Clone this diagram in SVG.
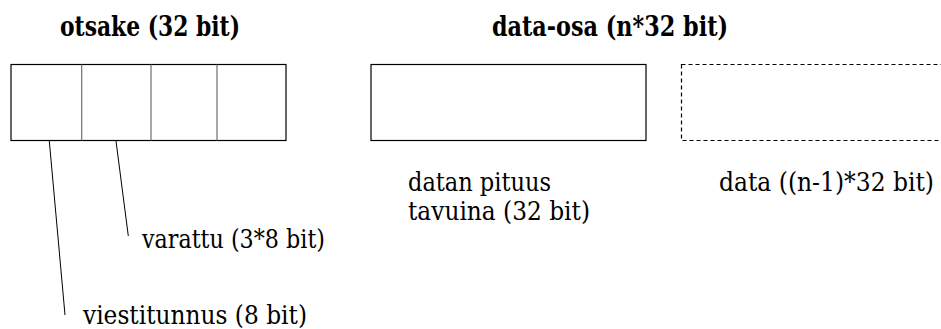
<svg xmlns="http://www.w3.org/2000/svg" width="941" height="329" viewBox="0 0 941 329">
  <style>
    .box { fill: #ffffff; stroke: #000000; stroke-width: 1.2; }
    .dash { fill: none; stroke: #000000; stroke-width: 1.2; stroke-dasharray: 4 3; }
    .div { stroke: #6e6e6e; stroke-width: 1.2; }
    .lead { stroke: #000000; stroke-width: 1; fill: none; }
    text { font-family: "DejaVu Serif", "Liberation Serif", serif; fill: #000; }
    .title { font-weight: bold; font-size: 27px; }
    .label { font-size: 26px; }
  </style>

  <!-- header word: four byte fields -->
  <g id="header">
    <text class="title" x="60" y="36" textLength="180" lengthAdjust="spacingAndGlyphs">otsake (32 bit)</text>
    <rect class="box" x="11" y="64.5" width="275" height="76"/>
    <line class="div" x1="81.7" y1="64.5" x2="81.7" y2="140.5"/>
    <line class="div" x1="151" y1="64.5" x2="151" y2="140.5"/>
    <line class="div" x1="217" y1="64.5" x2="217" y2="140.5"/>
  </g>

  <!-- data part: length word -->
  <g id="data-length">
    <text class="title" x="492" y="36" textLength="236" lengthAdjust="spacingAndGlyphs">data-osa (n*32 bit)</text>
    <rect class="box" x="371" y="64.5" width="275" height="76"/>
    <text class="label" x="408" y="191" textLength="143" lengthAdjust="spacingAndGlyphs">datan pituus</text>
    <text class="label" x="408" y="220" textLength="182" lengthAdjust="spacingAndGlyphs">tavuina (32 bit)</text>
  </g>

  <!-- data part: remaining words -->
  <g id="data-rest">
    <rect class="dash" x="681.5" y="64.5" width="290" height="76"/>
    <text class="label" x="719" y="191" textLength="215" lengthAdjust="spacingAndGlyphs">data ((n-1)*32 bit)</text>
  </g>

  <g id="reserved-label">
    <text class="label" x="142" y="248" textLength="183" lengthAdjust="spacingAndGlyphs">varattu (3*8 bit)</text>
  </g>

  <g id="msgid-label">
    <text class="label" x="83" y="324" textLength="224" lengthAdjust="spacingAndGlyphs">viestitunnus (8 bit)</text>
  </g>

  <!-- leader lines from fields to their labels -->
  <g id="connectors">
    <line class="lead" x1="49.3" y1="141" x2="65" y2="315"/>
    <line class="lead" x1="116" y1="141" x2="128.3" y2="236"/>
  </g>
</svg>
